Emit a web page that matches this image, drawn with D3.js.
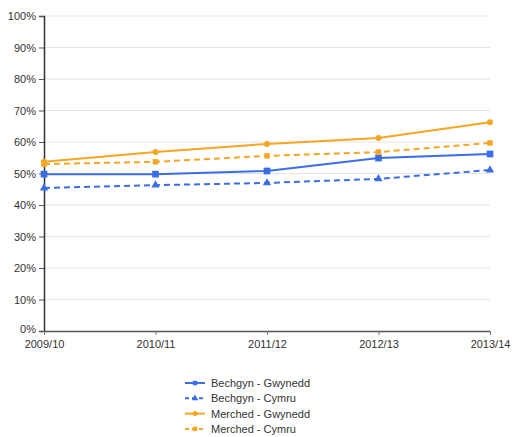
<!DOCTYPE html>
<html><head><meta charset="utf-8">
<script src="https://cdn.jsdelivr.net/npm/d3@7"></script>
<style>body{margin:0;background:#fff;font-family:"Liberation Sans",Arial,sans-serif;}</style>
</head><body><svg id="c" width="512" height="437"></svg>
<script>
const categories = ["2009/10","2010/11","2011/12","2012/13","2013/14"];
const bechgynGwynedd = [49.8, 49.8, 50.8, 54.9, 56.2];
const bechgynCymru   = [45.4, 46.3, 47.0, 48.3, 51.1];
const merchedGwynedd = [53.7, 56.8, 59.4, 61.3, 66.3];
const merchedCymru   = [53.0, 53.7, 55.6, 56.8, 59.7];
const seriesNames = ["Bechgyn - Gwynedd","Bechgyn - Cymru","Merched - Gwynedd","Merched - Cymru"];
const yTicks = [0,10,20,30,40,50,60,70,80,90,100];

const BLUE = "#3b6ee6", ORANGE = "#f5a623";
const series = [
  {name: seriesNames[0], values: bechgynGwynedd, color: BLUE, dash: null, sym: d3.symbolSquare, size: 45},
  {name: seriesNames[1], values: bechgynCymru, color: BLUE, dash: "6,4", sym: d3.symbolTriangle, size: 30},
  {name: seriesNames[2], values: merchedGwynedd, color: ORANGE, dash: null, sym: d3.symbolCircle, size: 28},
  {name: seriesNames[3], values: merchedCymru, color: ORANGE, dash: "6,4", sym: d3.symbolSquare, size: 30}
];

const svg = d3.select("#c");
const L = 44, R = 490, T = 16, B = 331;
const x = d3.scalePoint().domain(categories).range([L, R]);
const y = d3.scaleLinear().domain([0, 100]).range([B, T]);

// gridlines
svg.append("g").selectAll("line").data(yTicks.filter(d => d > 0)).join("line")
  .attr("x1", L).attr("x2", R).attr("y1", d => y(d)).attr("y2", d => y(d))
  .attr("stroke", "#e4e4e4").attr("stroke-width", 1);

// y axis
const ya = svg.append("g").attr("transform", `translate(${L},0)`)
  .call(d3.axisLeft(y).tickValues(yTicks).tickFormat(d => d + "%").tickSize(5).tickPadding(3));
ya.select(".domain").attr("stroke", "#333").attr("stroke-width", 1.5);
ya.selectAll(".tick line").attr("stroke", "#555");
ya.selectAll("text").attr("font-size", 11).attr("fill", "#333").attr("font-family", "Liberation Sans, Arial, sans-serif");
ya.selectAll(".tick").filter(d => d === 0).select("text").attr("dy", "0.1em");

// x axis
const xa = svg.append("g").attr("transform", `translate(0,${B})`)
  .call(d3.axisBottom(x).tickSize(4).tickPadding(5).tickSizeOuter(0));
xa.select(".domain").attr("stroke", "#555").attr("stroke-width", 1.5);
xa.selectAll(".tick line").attr("stroke", "#777");
xa.selectAll("text").attr("font-size", 11).attr("fill", "#333").attr("font-family", "Liberation Sans, Arial, sans-serif");

const line = d3.line().x((d, i) => x(categories[i])).y(d => y(d));
series.forEach(s => {
  svg.append("path").datum(s.values).attr("d", line).attr("fill", "none")
    .attr("stroke", s.color).attr("stroke-width", 2).attr("stroke-dasharray", s.dash);
  svg.append("g").selectAll("path").data(s.values).join("path")
    .attr("transform", (d, i) => `translate(${x(categories[i])},${y(d)})`)
    .attr("d", d3.symbol().type(s.sym).size(s.size)).attr("fill", s.color);
});

// legend
const lg = svg.append("g").attr("transform", "translate(185,383)");
series.forEach((s, i) => {
  const g = lg.append("g").attr("transform", `translate(0,${i * 15.3})`);
  g.append("line").attr("x1", 0).attr("x2", 20).attr("y1", 0).attr("y2", 0)
    .attr("stroke", s.color).attr("stroke-width", 2).attr("stroke-dasharray", s.dash ? "4,3" : null);
  g.append("path").attr("transform", "translate(10,0)").attr("d", d3.symbol().type(s.sym).size(20)).attr("fill", s.color);
  g.append("text").attr("x", 26).attr("y", 4).attr("font-size", 11).attr("fill", "#333").text(s.name);
});
</script></body></html>
